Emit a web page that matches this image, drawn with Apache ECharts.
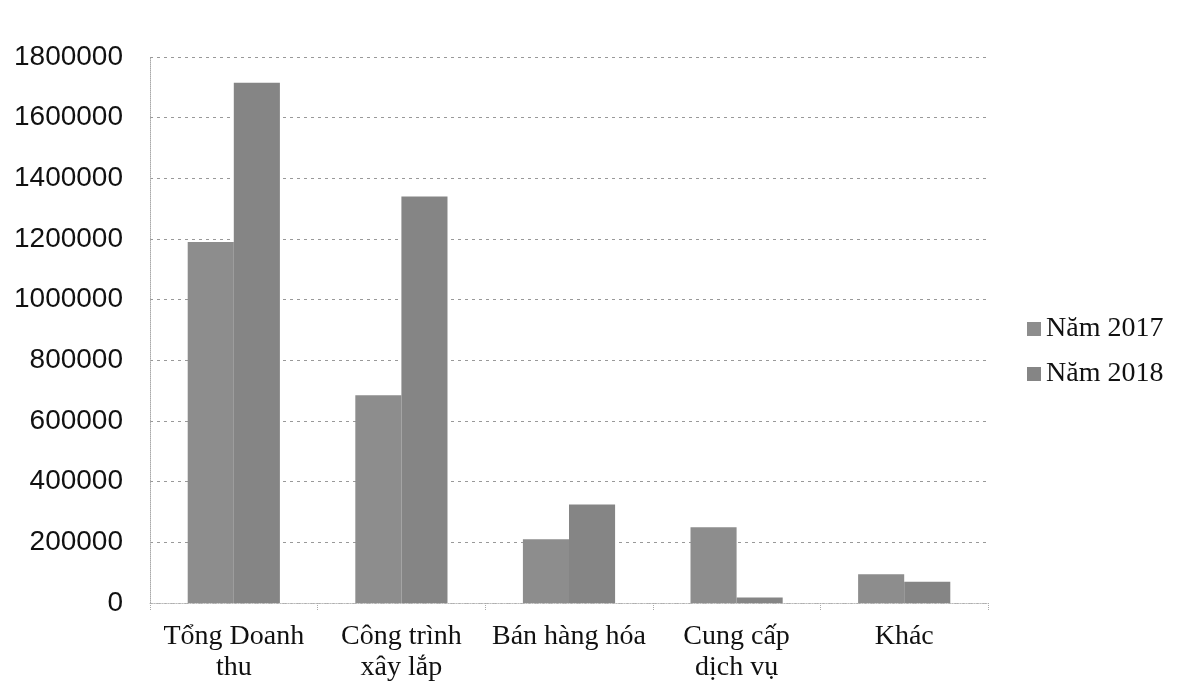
<!DOCTYPE html>
<html><head><meta charset="utf-8">
<script src="https://cdn.jsdelivr.net/npm/echarts@6/dist/echarts.min.js"></script>
<style>html,body{margin:0;padding:0;background:#fff}#c{width:1184px;height:690px}</style>
</head><body><div id="c"></div>
<script>
const categories = ['Tổng Doanh\nthu', 'Công trình\nxây lắp', 'Bán hàng hóa', 'Cung cấp\ndịch vụ', 'Khác'];
const seriesNames = ['Năm 2017', 'Năm 2018'];
const values2017 = [1190000, 685000, 210000, 250000, 95000];
const values2018 = [1715000, 1340000, 325000, 18000, 70000];
const yTicks = [0, 200000, 400000, 600000, 800000, 1000000, 1200000, 1400000, 1600000, 1800000];

const chart = echarts.init(document.getElementById('c'), null, {renderer: 'canvas'});
const serif = '"Liberation Serif", "DejaVu Serif", serif';
const sans = '"Liberation Sans", Arial, sans-serif';
chart.setOption({
  animation: false,
  backgroundColor: '#fff',
  grid: {left: 150, right: 196, top: 57, bottom: 87, containLabel: false},
  legend: {
    orient: 'vertical', left: 1022, top: 310, itemGap: 17,
    itemWidth: 14, itemHeight: 14, icon: 'rect', itemTextGap: 4,
    textStyle: {fontFamily: serif, fontSize: 28, color: '#111'},
    data: seriesNames
  },
  xAxis: {
    type: 'category', data: categories,
    axisLine: {show: true, lineStyle: {color: '#bbb', type: 'dotted'}},
    axisTick: {show: true, alignWithLabel: false, length: 8, lineStyle: {color: '#aaa', type: 'dotted'}},
    axisLabel: {fontFamily: serif, fontSize: 28, color: '#111', margin: 18, lineHeight: 31, interval: 0}
  },
  yAxis: {
    type: 'value', min: 0, max: 1800000, interval: 200000,
    axisLine: {show: true, lineStyle: {color: '#aaa', type: 'dotted'}},
    axisTick: {show: false},
    splitLine: {show: true, lineStyle: {color: '#999', type: [3, 4], width: 1}},
    axisLabel: {fontFamily: sans, fontSize: 28, color: '#111', margin: 27,
      formatter: v => yTicks.includes(v) ? String(v) : ''}
  },
  series: [
    {name: seriesNames[0], type: 'bar', data: values2017, barGap: '0%', barCategoryGap: '45%',
     itemStyle: {color: '#8d8d8d'}},
    {name: seriesNames[1], type: 'bar', data: values2018, barGap: '0%', barCategoryGap: '45%',
     itemStyle: {color: '#858585'}}
  ]
});
</script></body></html>
